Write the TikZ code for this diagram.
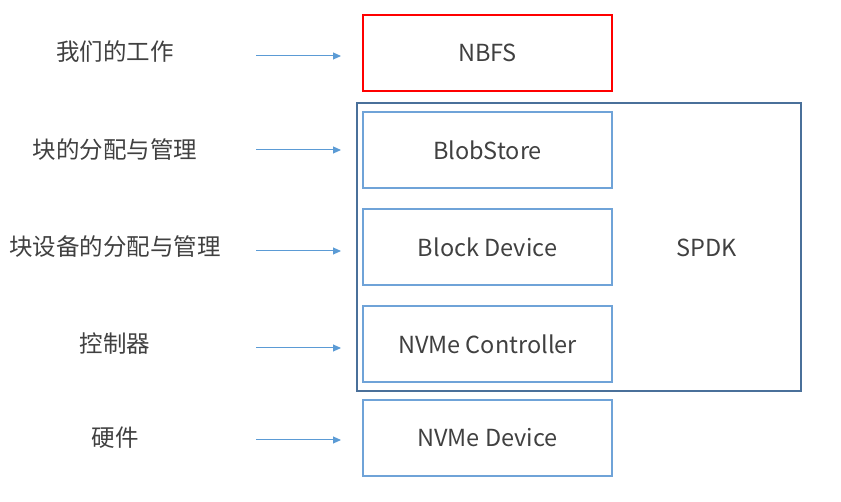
\documentclass[tikz,border=0pt]{standalone}
\usepackage{fontspec}
\setmainfont{Noto Sans CJK SC}
\usetikzlibrary{arrows.meta}
\definecolor{boxblue}{HTML}{6FA3D8}
\definecolor{outerblue}{HTML}{4A709A}
\definecolor{txt}{HTML}{404040}
\definecolor{arrblue}{HTML}{5B9BD5}
\begin{document}
\begin{tikzpicture}[x=1pt,y=-1pt,
  layer/.style={draw=boxblue,line width=1.5pt,minimum width=249pt,minimum height=76pt,inner sep=0pt,text=txt,font=\fontsize{23.5}{26}\selectfont},
  lbl/.style={text=txt,font=\fontsize{23.5}{26}\selectfont},
  arr/.style={draw=arrblue,line width=1pt,-{Triangle[length=8pt,width=7pt]}}]
\useasboundingbox (0,0) rectangle (841,502);
\node[draw=outerblue,line width=1.4pt,minimum width=444pt,minimum height=288pt,inner sep=0pt] (spdk) at (579,247) {};
\node[text=txt,font=\fontsize{23.5}{26}\selectfont] (spdkl) at (707,248) {SPDK};
\node[layer,draw=red] (nbfs) at (487.5,53) {NBFS};
\node[layer] (blob) at (487.5,150) {BlobStore};
\node[layer] (bdev) at (487.5,247) {Block Device};
\node[layer] (ctrl) at (487.5,344) {NVMe Controller};
\node[layer] (dev) at (487.5,438) {NVMe Device};
\node[lbl] (l1) at (115,52) {我们的工作};
\node[lbl] (l2) at (115,150) {块的分配与管理};
\node[lbl] (l3) at (115,247) {块设备的分配与管理};
\node[lbl] (l4) at (115,344) {控制器};
\node[lbl] (l5) at (115,438) {硬件};
\coordinate (a1s) at (256,56); \coordinate (a1e) at (341,56);
\coordinate (a2s) at (256,150); \coordinate (a2e) at (341,150);
\coordinate (a3s) at (256,251); \coordinate (a3e) at (341,251);
\coordinate (a4s) at (256,348); \coordinate (a4e) at (341,348);
\coordinate (a5s) at (256,440); \coordinate (a5e) at (341,440);
\draw[arr] (a1s) -- (a1e);
\draw[arr] (a2s) -- (a2e);
\draw[arr] (a3s) -- (a3e);
\draw[arr] (a4s) -- (a4e);
\draw[arr] (a5s) -- (a5e);
\end{tikzpicture}
\end{document}
